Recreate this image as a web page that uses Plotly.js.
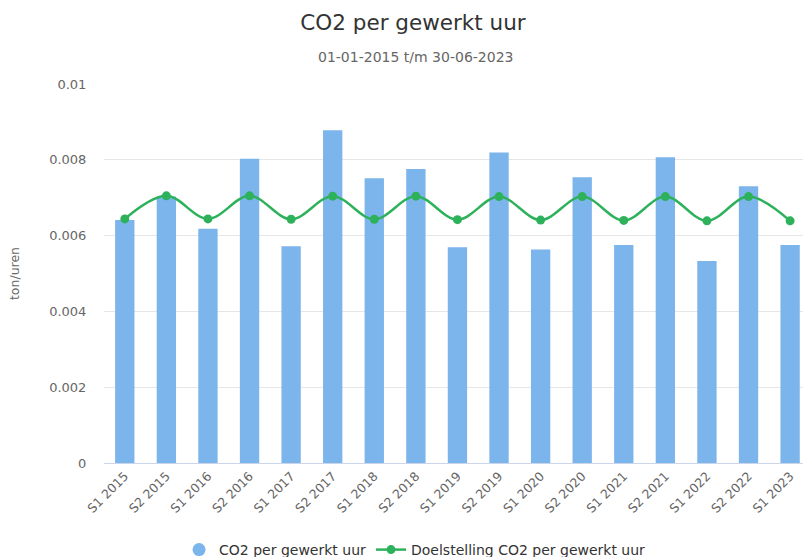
<!DOCTYPE html>
<html>
<head>
<meta charset="utf-8">
<script src="https://cdn.plot.ly/plotly-3.0.1.min.js"></script>
<style>
html,body{margin:0;padding:0;background:#fff;overflow:hidden;}
#chart{width:803px;height:557px;}
</style>
</head>
<body>
<div id="chart"></div>
<script>
var categories = ["S1 2015","S2 2015","S1 2016","S2 2016","S1 2017","S2 2017","S1 2018","S2 2018","S1 2019","S2 2019","S1 2020","S2 2020","S1 2021","S2 2021","S1 2022","S2 2022","S1 2023"];
var co2Values = [0.00641,0.00703,0.00618,0.00803,0.00572,0.00878,0.00751,0.00776,0.00569,0.00819,0.00563,0.00754,0.00575,0.00807,0.00533,0.00730,0.00575];
var targetValues = [0.00644,0.00705,0.00644,0.00705,0.00643,0.00704,0.00643,0.00704,0.00642,0.00703,0.00641,0.00703,0.00640,0.00703,0.00639,0.00703,0.00639];
var yTicks = [0,0.002,0.004,0.006,0.008,0.01];
var yTickText = ["0","0.002","0.004","0.006","0.008","0.01"];
var seriesNames = ["CO2 per gewerkt uur","Doelstelling CO2 per gewerkt uur"];

var FONT = "DejaVu Sans, Verdana, sans-serif";
var barColor = "#7cb5ec";
var lineColor = "#2db25b";

var traces = [
  {
    type: "bar", x: categories, y: co2Values, name: seriesNames[0],
    marker: {color: barColor}, showlegend: false, hoverinfo: "x+y"
  },
  {
    type: "scatter", mode: "markers", x: [categories[0]], y: [null], name: seriesNames[0],
    marker: {color: barColor, size: 13, symbol: "circle"}, showlegend: true, hoverinfo: "skip"
  },
  {
    type: "scatter", mode: "lines+markers", x: categories, y: targetValues, name: seriesNames[1],
    line: {color: lineColor, width: 2.5, shape: "spline", smoothing: 1},
    marker: {color: lineColor, size: 9}
  }
];

var layout = {
  width: 803, height: 557,
  paper_bgcolor: "#fff", plot_bgcolor: "#fff",
  margin: {l: 104, r: 0, t: 84, b: 94, pad: 0},
  font: {family: FONT, color: "#666666", size: 12},
  title: {text: "CO2 per gewerkt uur", font: {family: FONT, size: 21.5, color: "#333333"},
          x: 413/803, xref: "container", xanchor: "center", y: 1 - 22/557, yref: "container", yanchor: "middle"},
  annotations: [{
    text: "01-01-2015 t/m 30-06-2023", xref: "paper", yref: "paper", x: (415-104)/699, y: (463-57)/379,
    xanchor: "center", yanchor: "middle", showarrow: false,
    font: {family: FONT, size: 14, color: "#666666"}
  }],
  bargap: 0.535,
  xaxis: {
    type: "category", range: [-0.5, 16.31], fixedrange: true,
    tickangle: -45, tickfont: {family: FONT, size: 12.5, color: "#666666"},
    showgrid: false, zeroline: false, showline: true, linecolor: "#ccd6eb", linewidth: 1,
    ticks: "", automargin: false
  },
  yaxis: {
    range: [0, 0.01], tickvals: yTicks, ticktext: yTickText, fixedrange: true,
    tickfont: {family: FONT, size: 13, color: "#666666"},
    showgrid: true, gridcolor: "#e6e6e6", gridwidth: 1, zeroline: false, showline: false,
    ticks: "outside", ticklen: 14, tickcolor: "rgba(0,0,0,0)", automargin: false,
    title: {text: "ton/uren", font: {family: FONT, size: 12.5, color: "#666666"}, standoff: 26}
  },
  showlegend: true,
  legend: {
    orientation: "h", x: 0.445, xanchor: "center", xref: "paper",
    y: 1 - 550/557, yref: "container", yanchor: "middle",
    font: {family: FONT, size: 14, color: "#333333"}, bgcolor: "rgba(0,0,0,0)",
    itemclick: false, itemdoubleclick: false
  }
};

Plotly.newPlot("chart", traces, layout, {displayModeBar: false});
</script>
</body>
</html>
